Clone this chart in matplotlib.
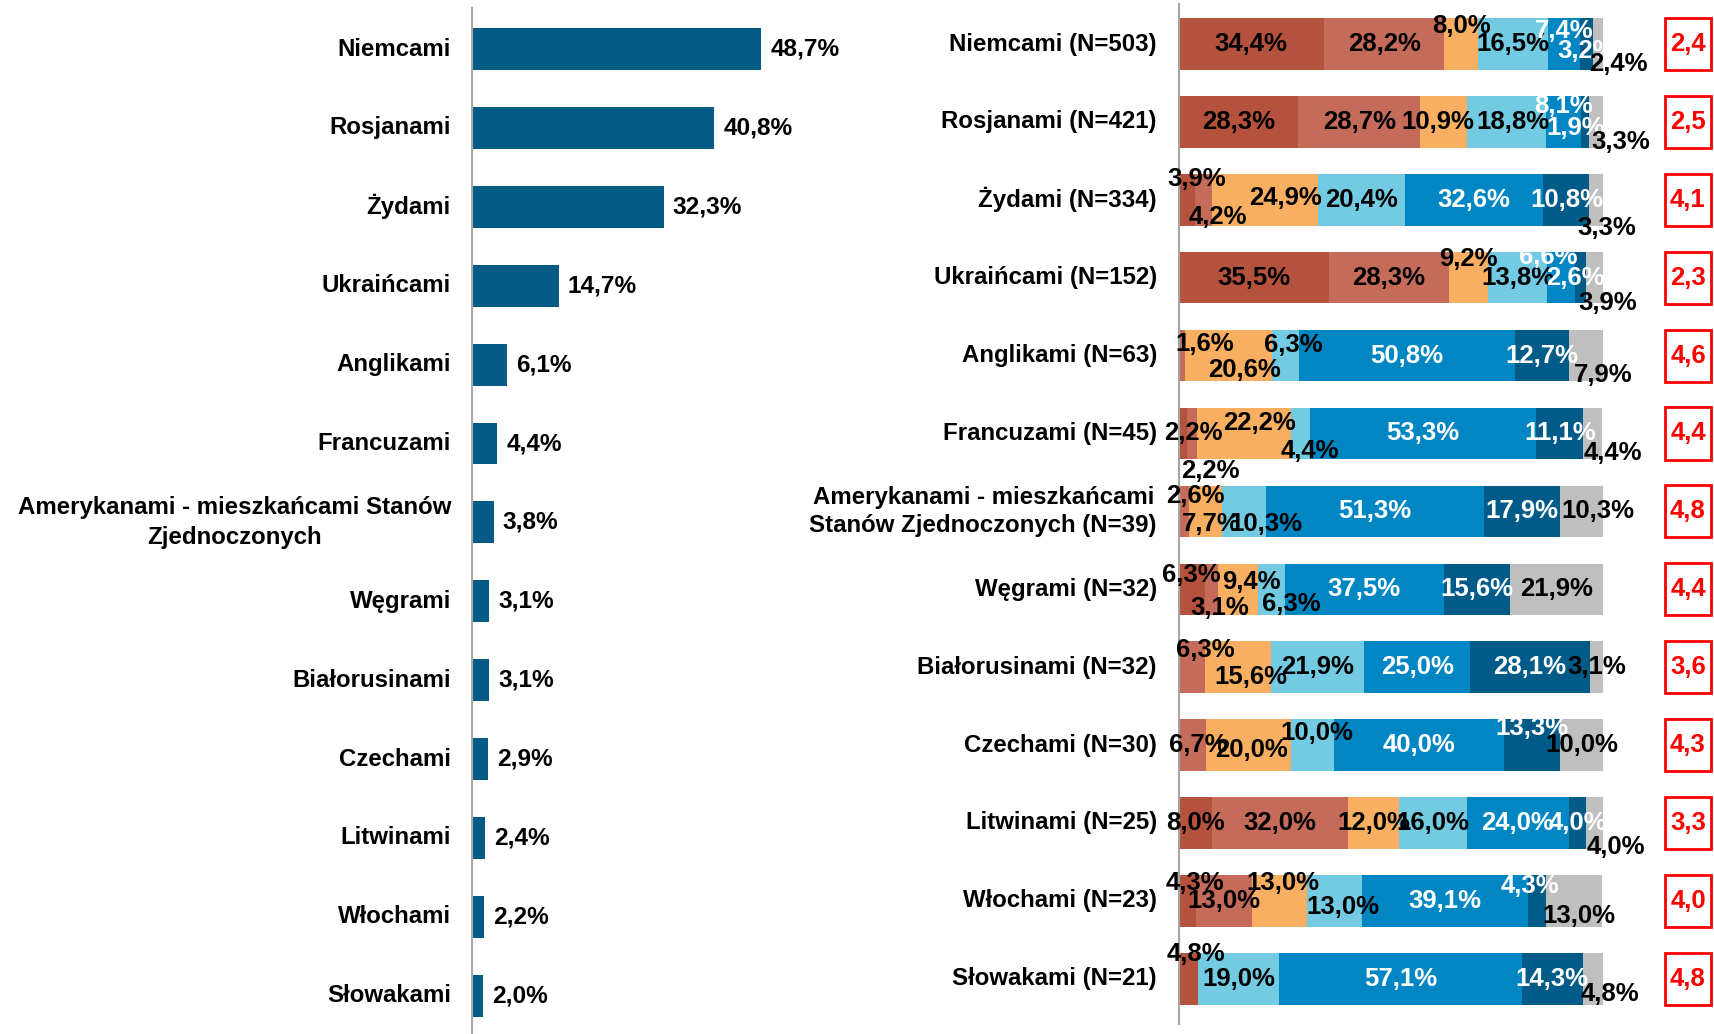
import matplotlib
matplotlib.use("Agg")
import matplotlib.pyplot as plt
from matplotlib.patches import Rectangle

plt.rcParams['font.family'] = ['Liberation Sans', 'DejaVu Sans']
plt.rcParams['font.weight'] = 'bold'
plt.rcParams['font.size'] = 17.3

# ----- data: share of respondents naming each nation ------------------
nations = ["Niemcami", "Rosjanami", "Żydami", "Ukraińcami", "Anglikami",
           "Francuzami", "Amerykanami - mieszkańcami Stanów\nZjednoczonych",
           "Węgrami", "Białorusinami", "Czechami", "Litwinami", "Włochami",
           "Słowakami"]
share = [48.7, 40.8, 32.3, 14.7, 6.1, 4.4, 3.8, 3.1, 3.1, 2.9, 2.4, 2.2, 2.0]

# ----- data: rating distribution per nation (7 answer categories) -----
groups = ["Niemcami (N=503)", "Rosjanami (N=421)", "Żydami (N=334)",
          "Ukraińcami (N=152)", "Anglikami (N=63)", "Francuzami (N=45)",
          "Amerykanami - mieszkańcami\nStanów Zjednoczonych (N=39)",
          "Węgrami (N=32)", "Białorusinami (N=32)", "Czechami (N=30)",
          "Litwinami (N=25)", "Włochami (N=23)", "Słowakami (N=21)"]
cat1 = [34.4, 28.3, 3.9, 35.5, 0.0, 2.2, 0.0, 6.3, 0.0, 0.0, 8.0, 4.3, 4.8]
cat2 = [28.2, 28.7, 4.2, 28.3, 1.6, 2.2, 2.6, 3.1, 6.3, 6.7, 32.0, 13.0, 0.0]
cat3 = [8.0, 10.9, 24.9, 9.2, 20.6, 22.2, 7.7, 9.4, 15.6, 20.0, 12.0, 13.0, 0.0]
cat4 = [16.5, 18.8, 20.4, 13.8, 6.3, 4.4, 10.3, 6.3, 21.9, 10.0, 16.0, 13.0, 19.0]
cat5 = [7.4, 8.1, 32.6, 6.6, 50.8, 53.3, 51.3, 37.5, 25.0, 40.0, 24.0, 39.1, 57.1]
cat6 = [3.2, 1.9, 10.8, 2.6, 12.7, 11.1, 17.9, 15.6, 28.1, 13.3, 4.0, 4.3, 14.3]
cat7 = [2.4, 3.3, 3.3, 3.9, 7.9, 4.4, 10.3, 21.9, 3.1, 10.0, 4.0, 13.0, 4.8]
mean_score = [2.4, 2.5, 4.1, 2.3, 4.6, 4.4, 4.8, 4.4, 3.6, 4.3, 3.3, 4.0, 4.8]

categories = [cat1, cat2, cat3, cat4, cat5, cat6, cat7]

# ----- styling ---------------------------------------------------------
seg_colors = ['#B4523E', '#C56B5A', '#F8AF61', '#72CBE3', '#0087C3',
              '#005B88', '#BFBFBF']
seg_text = ['black', 'black', 'black', 'black', 'white', 'white', 'black']
bar_color = '#035A85'
axis_grey = '#A6A6A6'
seg_fontsize = 18.5

# label nudges in pixels (dx, dy) for crowded segments: (row, segment)
nudge = {
    (0, 2): (0, 18), (0, 4): (0, 13), (0, 5): (0, -7), (0, 6): (20, -20),
    (1, 2): (-6, 0), (1, 3): (6, 0), (1, 4): (0, 16), (1, 5): (-9, -6),
    (1, 6): (25, -20),
    (2, 0): (10, 21), (2, 1): (14, -17), (2, 2): (20, 2), (2, 6): (10, -28),
    (3, 2): (0, 19), (3, 4): (-13, 21), (3, 5): (-5, 0), (3, 6): (13, -25),
    (4, 1): (23, 12), (4, 2): (16, -14), (4, 3): (8, 11), (4, 6): (17, -19),
    (5, 0): (11, 0), (5, 1): (18, -37), (5, 2): (16, 10), (5, 3): (9, -17),
    (5, 6): (20, -20),
    (6, 1): (12, 15), (6, 2): (6, -13), (6, 3): (22, -13), (6, 6): (16, 0),
    (7, 0): (0, 14), (7, 1): (8, -19), (7, 2): (13, 7), (7, 3): (20, -15),
    (8, 1): (14, 17), (8, 2): (13, -10),
    (9, 1): (6, 0), (9, 2): (3, -5), (9, 3): (4, 12), (9, 5): (0, 17),
    (10, 6): (21, -24),
    (11, 0): (8, 18), (11, 2): (4, 18), (11, 3): (8, -6), (11, 5): (-7, 15),
    (11, 6): (5, -15),
    (12, 0): (8, 25), (12, 6): (17, -15),
}


def pct(v):
    return "{:.1f}%".format(v).replace('.', ',')


W, H = 1715, 1034
fig = plt.figure(figsize=(W / 100, H / 100), dpi=100)

#----- left: simple bar chart ------------------------------------------
left_x0, left_scale = 471, 5.96          # px, px per percent
row0, step = 49, 78.9
ax1 = fig.add_axes([left_x0 / W, 0, 100 * left_scale / W, 1])
ax1.set_xlim(0, 100)
ax1.set_ylim((H - row0) / step, -row0 / step)
ax1.axis('off')

rows = list(range(len(nations)))
ax1.barh(rows, share, height=0.53, color=bar_color)
ax1.axvline(0, ymin=0, ymax=1 - 9 / H, color=axis_grey, lw=3)
for i, (name, v) in enumerate(zip(nations, share)):
    ax1.annotate(name, xy=(0, i), xytext=(-20, 0), textcoords='offset pixels',
                 ha='right', va='center', multialignment='center',
                 linespacing=1.35)
    ax1.annotate(pct(v), xy=(v, i), xytext=(9, 0), textcoords='offset pixels',
                 ha='left', va='center', fontsize=17.6)

#----- right: stacked distribution -------------------------------------
right_x0, right_scale = 1178, 4.25
row0r, stepr = 44, 77.9
ax2 = fig.add_axes([right_x0 / W, 0, (W - right_x0) / W, 1])
ax2.set_xlim(0, (W - right_x0) / right_scale)
ax2.set_ylim((H - row0r) / stepr, -row0r / stepr)
ax2.axis('off')

left = [0.0] * len(groups)
for s, vals in enumerate(categories):
    ax2.barh(rows, vals, left=left, height=0.66, color=seg_colors[s])
    for i, v in enumerate(vals):
        if v <= 0:
            continue
        dx, dy = nudge.get((i, s), (0, 0))
        ax2.annotate(pct(v), xy=(left[i] + v / 2, i), xytext=(dx, dy),
                     textcoords='offset pixels', ha='center', va='center',
                     color=seg_text[s], fontsize=seg_fontsize,
                     annotation_clip=False)
    left = [a + b for a, b in zip(left, vals)]

ax2.axvline(0, ymin=1 - 1023 / H, ymax=1 - 5 / H, color=axis_grey, lw=3)

box_x0 = (1665 - right_x0) / right_scale
box_w = 46 / right_scale
for i, (name, m) in enumerate(zip(groups, mean_score)):
    ax2.annotate(name, xy=(0, i), xytext=(-21, 0), textcoords='offset pixels',
                 ha='right', va='center', multialignment='center',
                 linespacing=1.3)
    ax2.add_patch(Rectangle((box_x0, i - 0.335), box_w, 0.67, fill=False,
                            edgecolor='#FF0000', lw=2, clip_on=False))
    ax2.text(box_x0 + box_w / 2, i, "{:.1f}".format(m).replace('.', ','),
             ha='center', va='center', color='#FF0000', fontsize=18.5)

fig.savefig('out.png', dpi=100)
